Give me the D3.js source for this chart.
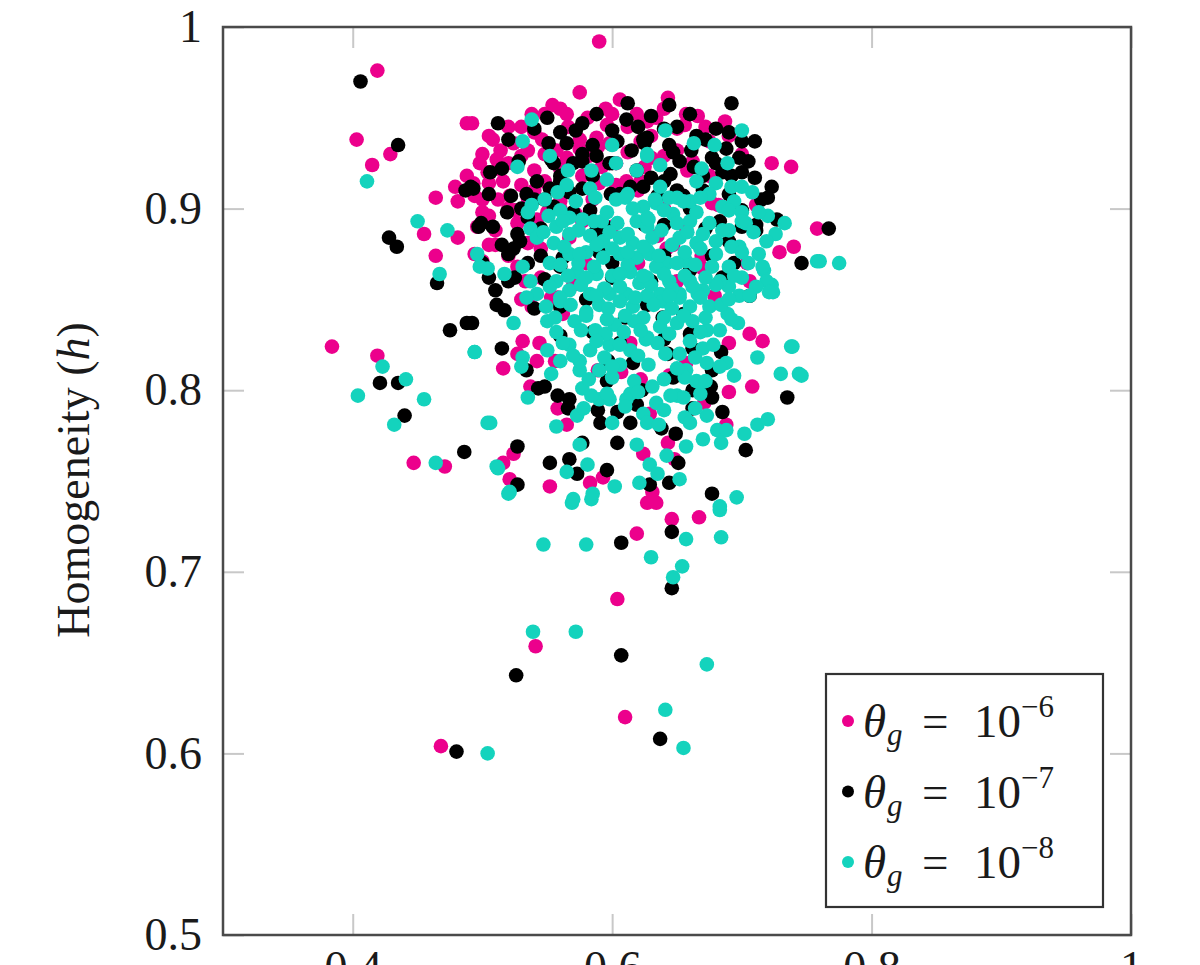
<!DOCTYPE html>
<html>
<head>
<meta charset="utf-8">
<script src="https://cdn.jsdelivr.net/npm/d3@7"></script>
<style>
  body { margin: 0; background: #fff; }
  svg text { font-family: "Liberation Serif", "Times New Roman", serif; fill: #1a1a1a; }
</style>
</head>
<body>
<svg id="chart" width="1200" height="965"></svg>
<script>
// ---------- data: [x, homogeneity h]
var thetaE6 = [
  [0.590,0.992],[0.419,0.976],[0.403,0.938],[0.415,0.924],[0.429,0.930],[0.464,0.906],[0.488,0.947],
  [0.479,0.912],[0.481,0.904],[0.455,0.886],[0.481,0.884],[0.464,0.874],[0.384,0.824],[0.419,0.819],
  [0.447,0.760],[0.471,0.758],[0.468,0.604],[0.541,0.659],[0.604,0.685],[0.610,0.620],
  [0.723,0.925],[0.738,0.923],[0.740,0.879],[0.758,0.889],[0.729,0.876],[0.711,0.902],[0.704,0.870],
  [0.706,0.860],[0.669,0.874],[0.670,0.867],[0.642,0.878],[0.647,0.880],[0.657,0.889],[0.635,0.885],
  [0.677,0.903],[0.682,0.902],[0.675,0.918],[0.675,0.937],[0.662,0.926],[0.643,0.961],[0.657,0.952],
  [0.666,0.951],[0.634,0.950],[0.627,0.948],[0.656,0.946],[0.687,0.948],[0.625,0.923],[0.630,0.928],
  [0.575,0.964],[0.606,0.960],[0.554,0.957],[0.548,0.952],[0.581,0.950],[0.619,0.952],[0.492,0.947],
  [0.540,0.942],[0.524,0.936],[0.535,0.932],[0.596,0.946],[0.598,0.936],[0.575,0.938],[0.514,0.932],
  [0.511,0.927],[0.520,0.925],[0.565,0.928],[0.575,0.933],[0.589,0.934],[0.504,0.920],[0.493,0.914],
  [0.494,0.907],[0.516,0.915],[0.521,0.907],[0.557,0.932],[0.577,0.918],[0.603,0.925],[0.611,0.915],
  [0.620,0.910],[0.542,0.894],[0.527,0.892],[0.505,0.896],[0.494,0.875],[0.520,0.874],[0.496,0.890],
  [0.527,0.868],[0.533,0.860],[0.567,0.884],[0.577,0.893],[0.603,0.913],[0.500,0.871],
  [0.538,0.846],[0.531,0.827],[0.544,0.826],[0.516,0.812],[0.527,0.820],[0.542,0.816],[0.556,0.816],
  [0.537,0.802],[0.558,0.790],[0.565,0.781],[0.589,0.811],[0.607,0.810],[0.619,0.804],[0.553,0.851],
  [0.558,0.851],[0.614,0.826],[0.524,0.765],[0.516,0.760],[0.521,0.751],[0.552,0.747],[0.583,0.749],
  [0.593,0.752],[0.624,0.765],[0.627,0.738],
  [0.679,0.852],[0.706,0.831],[0.716,0.827],[0.690,0.826],[0.657,0.815],[0.644,0.808],[0.708,0.802],
  [0.690,0.799],[0.671,0.793],[0.688,0.781],[0.629,0.787],[0.643,0.771],[0.648,0.762],[0.631,0.744],
  [0.622,0.806],[0.634,0.738],[0.646,0.729],[0.667,0.730],[0.619,0.721],
  [0.600,0.890],[0.620,0.870],[0.650,0.860],[0.580,0.870],[0.560,0.900],[0.640,0.900],[0.562,0.842],
  [0.570,0.858],
  [0.560,0.955],[0.595,0.955],[0.640,0.955],[0.530,0.945],[0.566,0.945],[0.612,0.945],[0.650,0.944],
  [0.672,0.945],[0.508,0.938],[0.546,0.938],[0.588,0.939],[0.622,0.937],[0.500,0.930],[0.530,0.929],
  [0.548,0.930],[0.582,0.929],[0.612,0.931],[0.640,0.929],[0.512,0.922],[0.540,0.921],[0.560,0.922],
  [0.592,0.923],[0.658,0.921],[0.505,0.914],[0.530,0.913],[0.548,0.915],[0.590,0.914],[0.622,0.915],
  [0.512,0.905],[0.535,0.906],[0.560,0.904],[0.585,0.905],[0.500,0.898],[0.525,0.899],[0.550,0.898],
  [0.572,0.897],[0.510,0.880],[0.535,0.881],[0.545,0.878],
  [0.505,0.940],[0.520,0.945],[0.538,0.952],[0.565,0.952],[0.600,0.952],[0.630,0.940],[0.650,0.932],
  [0.665,0.938],[0.690,0.940],[0.700,0.930],[0.498,0.925],[0.488,0.918],[0.500,0.905],[0.510,0.888],
  [0.520,0.900],[0.540,0.910],[0.505,0.880],[0.530,0.850],[0.545,0.862]
];

var thetaE7 = [
  [0.406,0.970],[0.435,0.935],[0.428,0.884],[0.434,0.879],[0.421,0.804],[0.435,0.804],[0.440,0.786],
  [0.486,0.766],[0.465,0.859],[0.475,0.833],[0.488,0.837],[0.480,0.601],[0.526,0.643],[0.607,0.654],
  [0.607,0.716],[0.637,0.608],[0.646,0.691],[0.646,0.722],[0.677,0.743],[0.703,0.767],[0.735,0.796],
  [0.746,0.870],[0.767,0.889],[0.487,0.910],[0.491,0.912],[0.499,0.892],
  [0.644,0.957],[0.692,0.958],[0.690,0.942],[0.700,0.937],[0.627,0.939],[0.625,0.936],[0.644,0.935],
  [0.647,0.931],[0.661,0.932],[0.677,0.928],[0.688,0.933],[0.698,0.928],[0.692,0.918],[0.663,0.923],
  [0.624,0.912],[0.650,0.910],[0.655,0.907],[0.723,0.912],[0.711,0.891],[0.727,0.894],[0.711,0.888],
  [0.677,0.874],[0.694,0.870],[0.690,0.882],[0.683,0.893],[0.625,0.891],[0.660,0.866],[0.685,0.862],
  [0.512,0.947],[0.550,0.950],[0.577,0.947],[0.612,0.958],[0.611,0.949],[0.600,0.943],[0.624,0.938],
  [0.560,0.942],[0.551,0.936],[0.565,0.936],[0.577,0.930],[0.588,0.929],[0.615,0.932],[0.506,0.920],
  [0.515,0.922],[0.542,0.915],[0.570,0.925],[0.577,0.926],[0.534,0.908],[0.540,0.905],[0.552,0.911],
  [0.567,0.909],[0.577,0.911],[0.493,0.911],[0.519,0.898],[0.497,0.890],[0.527,0.886],[0.529,0.882],
  [0.524,0.878],[0.510,0.855],[0.560,0.868],[0.562,0.873],[0.570,0.898],[0.588,0.888],[0.619,0.921],
  [0.614,0.912],[0.599,0.908],
  [0.511,0.847],[0.517,0.844],[0.492,0.837],[0.515,0.823],[0.534,0.811],[0.543,0.801],[0.548,0.802],
  [0.558,0.797],[0.567,0.795],[0.566,0.790],[0.589,0.789],[0.591,0.782],[0.604,0.788],[0.596,0.805],
  [0.597,0.816],[0.616,0.815],[0.577,0.771],[0.527,0.769],[0.527,0.748],[0.552,0.760],[0.567,0.762],
  [0.573,0.754],[0.596,0.756],[0.604,0.771],[0.619,0.792],[0.623,0.800],
  [0.684,0.821],[0.677,0.811],[0.676,0.802],[0.677,0.796],[0.685,0.788],[0.662,0.800],[0.647,0.807],
  [0.643,0.820],[0.651,0.760],[0.644,0.749],[0.649,0.776],[0.638,0.779],[0.662,0.790],[0.706,0.852],
  [0.627,0.847],[0.639,0.840],[0.660,0.831],[0.662,0.823],[0.614,0.782],[0.629,0.748],
  [0.600,0.870],[0.580,0.850],[0.630,0.860],[0.560,0.830],[0.610,0.840],
  [0.588,0.952],[0.630,0.951],[0.660,0.952],[0.540,0.944],[0.572,0.943],[0.640,0.944],[0.680,0.944],
  [0.520,0.938],[0.604,0.937],[0.672,0.938],[0.710,0.937],[0.528,0.926],[0.553,0.927],[0.598,0.925],
  [0.652,0.926],[0.680,0.925],[0.705,0.926],[0.560,0.918],[0.585,0.918],[0.630,0.917],[0.645,0.919],
  [0.670,0.918],[0.710,0.917],[0.505,0.908],[0.522,0.907],[0.606,0.908],[0.635,0.907],[0.690,0.908],
  [0.720,0.906],[0.530,0.900],[0.555,0.901],[0.583,0.899],[0.660,0.900],[0.700,0.899],[0.508,0.890],
  [0.545,0.889],[0.595,0.890],[0.640,0.891],[0.672,0.889],[0.700,0.890],[0.520,0.875],[0.545,0.874],
  [0.590,0.876],[0.640,0.874],[0.525,0.862],[0.548,0.861],[0.600,0.862],[0.540,0.845],[0.560,0.846],
  [0.585,0.832],[0.640,0.828],[0.606,0.826],[0.655,0.842],
  [0.500,0.870],[0.515,0.880],[0.535,0.895],[0.548,0.905],[0.560,0.915],[0.585,0.935],[0.600,0.925],
  [0.620,0.945],[0.650,0.945],[0.665,0.940],[0.685,0.920],[0.700,0.920],[0.715,0.905],[0.535,0.870],
  [0.520,0.860],[0.505,0.862],[0.555,0.925],[0.640,0.915],[0.670,0.910]
];

var thetaE8 = [
  [0.411,0.915],[0.450,0.893],[0.473,0.888],[0.467,0.864],[0.423,0.813],[0.441,0.806],[0.404,0.797],
  [0.455,0.795],[0.432,0.781],[0.494,0.821],[0.464,0.760],[0.504,0.782],[0.511,0.758],[0.520,0.743],
  [0.498,0.868],
  [0.569,0.738],[0.584,0.740],[0.683,0.734],[0.657,0.718],[0.684,0.719],[0.547,0.715],[0.580,0.715],
  [0.630,0.708],[0.654,0.703],[0.647,0.697],[0.539,0.667],[0.572,0.667],[0.673,0.649],[0.641,0.624],
  [0.655,0.603],[0.504,0.600],
  [0.739,0.824],[0.744,0.809],[0.758,0.871],[0.775,0.870],[0.717,0.866],[0.723,0.858],
  [0.538,0.949],[0.531,0.937],[0.552,0.929],[0.527,0.923],[0.600,0.935],[0.627,0.929],[0.566,0.921],
  [0.584,0.921],[0.603,0.925],[0.619,0.921],[0.596,0.916],[0.565,0.913],[0.538,0.902],[0.558,0.909],
  [0.583,0.911],[0.587,0.906],[0.603,0.905],[0.612,0.908],[0.624,0.901],[0.535,0.898],[0.551,0.896],
  [0.537,0.889],[0.557,0.890],[0.567,0.895],[0.577,0.894],[0.592,0.893],[0.604,0.892],[0.619,0.893],
  [0.627,0.890],[0.542,0.884],[0.555,0.881],[0.567,0.886],[0.583,0.885],[0.593,0.882],[0.606,0.884],
  [0.616,0.881],[0.552,0.870],[0.567,0.875],[0.580,0.876],[0.593,0.873],[0.606,0.875],[0.619,0.873],
  [0.627,0.877],[0.496,0.875],[0.504,0.867],[0.517,0.864],[0.531,0.868],[0.537,0.860],[0.542,0.853],
  [0.557,0.860],[0.573,0.865],[0.588,0.864],[0.600,0.863],[0.614,0.865],[0.621,0.859],[0.567,0.855],
  [0.583,0.853],[0.598,0.853],[0.611,0.853],
  [0.641,0.943],[0.700,0.943],[0.663,0.936],[0.679,0.935],[0.627,0.930],[0.637,0.924],[0.669,0.922],
  [0.689,0.925],[0.665,0.915],[0.680,0.914],[0.675,0.908],[0.692,0.912],[0.700,0.912],[0.708,0.909],
  [0.637,0.912],[0.644,0.906],[0.634,0.903],[0.650,0.906],[0.660,0.904],[0.685,0.901],[0.694,0.904],
  [0.700,0.898],[0.720,0.896],[0.733,0.892],[0.726,0.886],[0.719,0.882],[0.760,0.871],[0.627,0.895],
  [0.647,0.897],[0.660,0.893],[0.675,0.892],[0.690,0.888],[0.703,0.892],[0.631,0.884],[0.652,0.884],
  [0.665,0.881],[0.680,0.882],[0.698,0.879],[0.713,0.875],[0.716,0.868],[0.719,0.860],[0.724,0.854],
  [0.700,0.862],[0.690,0.857],[0.677,0.868],[0.683,0.860],[0.629,0.875],[0.642,0.870],[0.657,0.871],
  [0.627,0.862],[0.644,0.860],[0.660,0.860],[0.670,0.855],[0.637,0.853],[0.652,0.853],
  [0.494,0.821],[0.524,0.837],[0.534,0.851],[0.531,0.818],[0.530,0.813],[0.550,0.822],[0.550,0.838],
  [0.553,0.809],[0.535,0.796],[0.506,0.782],[0.557,0.780],[0.573,0.786],[0.575,0.770],[0.512,0.757],
  [0.521,0.744],[0.565,0.755],[0.581,0.759],[0.585,0.743],[0.570,0.740],[0.602,0.747],[0.619,0.770],
  [0.621,0.749],[0.614,0.798],[0.611,0.795],[0.598,0.795],[0.590,0.795],[0.584,0.797],[0.577,0.801],
  [0.575,0.811],
  [0.627,0.852],[0.639,0.849],[0.652,0.851],[0.666,0.853],[0.675,0.846],[0.689,0.842],[0.697,0.837],
  [0.721,0.854],[0.698,0.852],[0.624,0.840],[0.637,0.835],[0.650,0.837],[0.662,0.838],[0.673,0.833],
  [0.627,0.829],[0.652,0.820],[0.670,0.823],[0.673,0.815],[0.688,0.815],[0.694,0.808],[0.712,0.818],
  [0.738,0.824],[0.730,0.809],[0.746,0.808],[0.657,0.811],[0.665,0.805],[0.631,0.802],[0.650,0.797],
  [0.655,0.796],[0.634,0.793],[0.624,0.787],[0.627,0.782],[0.656,0.785],[0.673,0.786],[0.681,0.778],
  [0.688,0.778],[0.684,0.771],[0.670,0.773],[0.702,0.776],[0.712,0.781],[0.720,0.784],[0.657,0.769],
  [0.642,0.764],[0.629,0.759],[0.635,0.754],[0.652,0.751],[0.696,0.741],[0.683,0.736],
  [0.560,0.849],[0.590,0.847],[0.606,0.849],[0.571,0.838],[0.587,0.833],[0.602,0.836],[0.617,0.838],
  [0.567,0.825],[0.583,0.822],[0.598,0.825],[0.614,0.822],[0.626,0.828],[0.575,0.816],[0.590,0.811],
  [0.606,0.814],[0.560,0.816],[0.580,0.843],
  [0.548,0.905],[0.572,0.904],[0.610,0.906],[0.633,0.905],[0.655,0.904],[0.668,0.906],
  [0.560,0.899],[0.596,0.898],[0.616,0.900],[0.640,0.899],[0.665,0.898],[0.690,0.899],[0.713,0.898],
  [0.547,0.887],[0.574,0.888],[0.598,0.887],[0.612,0.886],[0.638,0.888],[0.658,0.887],[0.670,0.886],
  [0.685,0.888],[0.709,0.887],[0.563,0.879],[0.588,0.880],[0.600,0.878],[0.624,0.879],[0.646,0.880],
  [0.668,0.878],[0.692,0.879],[0.560,0.869],[0.574,0.870],[0.586,0.868],[0.612,0.869],[0.634,0.868],
  [0.650,0.870],[0.664,0.869],[0.690,0.868],[0.705,0.870],[0.552,0.857],[0.576,0.858],[0.594,0.856],
  [0.606,0.857],[0.630,0.858],[0.646,0.856],[0.662,0.857],[0.680,0.858],[0.711,0.857],[0.549,0.846],
  [0.568,0.847],[0.597,0.845],[0.616,0.846],[0.632,0.847],[0.646,0.845],[0.660,0.846],[0.684,0.847],
  [0.557,0.832],[0.576,0.833],[0.595,0.831],[0.609,0.832],[0.622,0.833],[0.644,0.831],[0.668,0.832],
  [0.683,0.833],[0.562,0.826],[0.588,0.827],[0.606,0.825],[0.635,0.826],[0.660,0.827],[0.678,0.825],
  [0.570,0.819],[0.594,0.818],[0.620,0.819],[0.641,0.820],[0.664,0.818],[0.582,0.806],[0.600,0.807],
  [0.617,0.805],[0.640,0.806],[0.656,0.807],[0.672,0.805],[0.578,0.790],[0.610,0.791],[0.640,0.789],
  [0.664,0.790],
  [0.562,0.893],[0.586,0.893],[0.628,0.894],[0.650,0.892],[0.700,0.893],[0.575,0.875],[0.612,0.876],
  [0.636,0.874],[0.656,0.876],[0.680,0.875],[0.700,0.876],[0.566,0.863],[0.580,0.862],[0.606,0.864],
  [0.624,0.863],[0.640,0.864],[0.656,0.863],[0.672,0.862],[0.694,0.863],[0.560,0.851],[0.588,0.852],
  [0.618,0.851],[0.644,0.852],[0.668,0.851],[0.690,0.850],[0.706,0.852],[0.556,0.840],[0.580,0.841],
  [0.596,0.839],[0.610,0.841],[0.640,0.840],[0.655,0.841],[0.672,0.840],[0.692,0.839],[0.600,0.813],
  [0.628,0.814],[0.650,0.812],[0.683,0.813],[0.596,0.798],[0.620,0.799],[0.645,0.797],[0.668,0.798],
  [0.600,0.782],[0.636,0.781],[0.660,0.782]
];

var seriesData = [thetaE6, thetaE7, thetaE8];
var seriesExponents = ["\u22126", "\u22127", "\u22128"];
var seriesColors = ["#ec008c", "#000000", "#14d3bd"];

var xTicks = [0.4, 0.6, 0.8, 1];
var xTickLabels = ["0.4", "0.6", "0.8", "1"];
var yTicks = [0.5, 0.6, 0.7, 0.8, 0.9, 1];
var yTickLabels = ["0.5", "0.6", "0.7", "0.8", "0.9", "1"];

// ---------- layout (plot box in pixels)
var boxLeft = 223, boxRight = 1131, boxTop = 27, boxBottom = 935;

var svg = d3.select("#chart");

var x = d3.scaleLinear().domain([0.3, 1]).range([boxLeft, boxRight]);
var y = d3.scaleLinear().domain([0.5, 1]).range([boxBottom, boxTop]);

function styleTicks(g) {
    g.select(".domain").remove();
    g.selectAll(".tick line").attr("stroke", "#c8c8c8").attr("stroke-width", 2);
    g.selectAll(".tick text").style("font-size", "46px").attr("fill", "#1a1a1a");
}

// ticks on all four sides, pointing inward
svg.append("g")
    .attr("transform", "translate(" + boxLeft + ",0)")
    .call(d3.axisLeft(y).tickValues(yTicks).tickSizeInner(-21).tickSizeOuter(0).tickPadding(21)
        .tickFormat(function(d, i) { return yTickLabels[i]; }))
    .call(styleTicks);

svg.append("g")
    .attr("transform", "translate(" + boxRight + ",0)")
    .call(d3.axisRight(y).tickValues(yTicks).tickSizeInner(-21).tickSizeOuter(0).tickFormat(""))
    .call(styleTicks);

svg.append("g")
    .attr("transform", "translate(0," + boxBottom + ")")
    .call(d3.axisBottom(x).tickValues(xTicks).tickSizeInner(-21).tickSizeOuter(0).tickPadding(15)
        .tickFormat(function(d, i) { return xTickLabels[i]; }))
    .call(styleTicks);

svg.append("g")
    .attr("transform", "translate(0," + boxTop + ")")
    .call(d3.axisTop(x).tickValues(xTicks).tickSizeInner(-21).tickSizeOuter(0).tickFormat(""))
    .call(styleTicks);

// y axis label
var ylab = svg.append("text")
    .attr("transform", "translate(89,480) rotate(-90)")
    .attr("text-anchor", "middle")
    .style("font-size", "46px");
ylab.append("tspan").text("Homogeneity (");
ylab.append("tspan").style("font-style", "italic").text("h");
ylab.append("tspan").text(")");

// scatter marks: 10^-6 first, 10^-8 last (on top)
var plot = svg.append("g");
seriesData.forEach(function(pts, i) {
    plot.append("g").selectAll("circle")
        .data(pts)
        .enter().append("circle")
        .attr("cx", function(d) { return x(d[0]); })
        .attr("cy", function(d) { return y(d[1]); })
        .attr("r", 7.3)
        .attr("fill", seriesColors[i]);
});

// frame
svg.append("rect")
    .attr("x", boxLeft).attr("y", boxTop)
    .attr("width", boxRight - boxLeft).attr("height", boxBottom - boxTop)
    .attr("fill", "none").attr("stroke", "#4a4a4a").attr("stroke-width", 2.5);

// legend
var lg = svg.append("g").attr("transform", "translate(826,674)");
lg.append("rect")
    .attr("width", 277).attr("height", 233)
    .attr("fill", "#fff").attr("stroke", "#333").attr("stroke-width", 2.2);

seriesExponents.forEach(function(ex, i) {
    var row = lg.append("g").attr("transform", "translate(0," + (63 + i * 70.5) + ")");
    row.append("circle").attr("cx", 22).attr("cy", -16).attr("r", 6).attr("fill", seriesColors[i]);
    row.append("text").attr("x", 37).attr("y", 0).style("font-size", "47px").style("font-style", "italic").text("\u03b8");
    row.append("text").attr("x", 61).attr("y", 8).style("font-size", "31px").style("font-style", "italic").text("g");
    row.append("text").attr("x", 96).attr("y", 0).style("font-size", "47px").text("=");
    row.append("text").attr("x", 148).attr("y", 0).style("font-size", "47px").text("10");
    row.append("text").attr("x", 195).attr("y", -20).style("font-size", "31px").text(ex);
});
</script>
</body>
</html>
